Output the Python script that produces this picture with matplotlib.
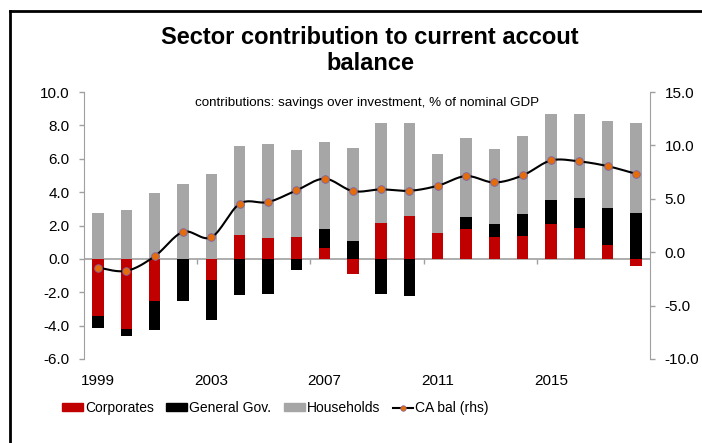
import matplotlib
matplotlib.use("Agg")
import matplotlib.pyplot as plt
import numpy as np
from matplotlib.lines import Line2D
from matplotlib.patches import Patch

plt.rcParams.update({
    "font.family": ["Liberation Sans", "DejaVu Sans"],
    "font.size": 10,
})

# ---- data ----
years = list(range(1999, 2019))
corporates = [-3.40, -4.22, -2.54, 0.00, -1.26, 1.44, 1.28, 1.30, 0.68, -0.92,
              2.14, 2.58, 1.56, 1.78, 1.34, 1.38, 2.06, 1.84, 0.84, -0.42]
general_gov = [-0.72, -0.42, -1.70, -2.54, -2.40, -2.18, -2.12, -0.66, 1.12, 1.08,
               -2.12, -2.22, 0.00, 0.70, 0.72, 1.28, 1.48, 1.78, 2.22, 2.72]
households = [2.74, 2.90, 3.94, 4.50, 5.10, 5.32, 5.58, 5.24, 5.18, 5.54,
              6.00, 5.56, 4.72, 4.74, 4.52, 4.72, 5.12, 5.08, 5.20, 5.40]
ca_bal = [-1.44, -1.75, -0.38, 1.90, 1.40, 4.53, 4.69, 5.78, 6.88, 5.72,
          5.88, 5.75, 6.22, 7.13, 6.53, 7.19, 8.59, 8.50, 8.06, 7.34]
tick_years = [1999, 2003, 2007, 2011, 2015]

# ---- palette ----
RED, BLACK, GREY = "#c00000", "#000000", "#a6a6a6"
ORANGE, PURPLE = "#e46c0a", "#8064a2"
AXIS = "#a0a0a0"

W, H = 702, 443
fig = plt.figure(figsize=(W / 100, H / 100), dpi=100)
ax = fig.add_axes([84 / W, 1 - 359 / H, (650 - 84) / W, (359 - 92) / H])
ax2 = ax.twinx()

x = np.arange(len(years))
pos = np.zeros(len(years))
neg = np.zeros(len(years))
for vals, col in ((corporates, RED), (general_gov, BLACK), (households, GREY)):
    v = np.array(vals)
    bottom = np.where(v >= 0, pos, neg)
    ax.bar(x, v, width=0.4, bottom=bottom, color=col, zorder=3)
    pos = pos + np.clip(v, 0, None)
    neg = neg + np.clip(v, None, 0)

ax.axhline(0, color=AXIS, lw=1.2, zorder=2)
ax.vlines([3.5, 7.5, 11.5, 15.5], -0.3, 0, color=AXIS, lw=1.0, zorder=2)

ax.set_xlim(-0.5, len(years) - 0.5)
ax.set_ylim(-6, 10)
ax.set_yticks(np.arange(-6, 10.1, 2))
ax.set_yticklabels([f"{t:.1f}" for t in np.arange(-6, 10.1, 2)])
ax.set_xticks([years.index(y) for y in tick_years])
ax.set_xticklabels([str(y) for y in tick_years])
ax.tick_params(axis="x", length=0, pad=11, labelsize=11)
ax.tick_params(axis="y", length=3.5, width=1, color=AXIS, pad=7, labelsize=11)

# smoothed CA line (Catmull-Rom through the points, like Excel's smoothed line)
def smooth(xs, ys, n=16):
    xs, ys = np.asarray(xs, float), np.asarray(ys, float)
    px = np.r_[xs[0], xs, xs[-1]]
    py = np.r_[ys[0], ys, ys[-1]]
    t = np.linspace(0, 1, n, endpoint=False)
    outx, outy = [], []
    for i in range(1, len(px) - 2):
        for p, out in ((px, outx), (py, outy)):
            p0, p1, p2, p3 = p[i - 1], p[i], p[i + 1], p[i + 2]
            out.extend(0.5 * (2 * p1 + (-p0 + p2) * t + (2 * p0 - 5 * p1 + 4 * p2 - p3) * t**2
                              + (-p0 + 3 * p1 - 3 * p2 + p3) * t**3))
    outx.append(xs[-1]); outy.append(ys[-1])
    return outx, outy

sx, sy = smooth(x, ca_bal)
ax2.plot(sx, sy, color=BLACK, lw=1.5, zorder=4)
ax2.plot(x, ca_bal, ls="none", marker="o", ms=5.5, mfc=ORANGE, mec=PURPLE, mew=0.6, zorder=5)
ax2.set_ylim(-10, 15)
ax2.set_yticks(np.arange(-10, 15.1, 5))
ax2.set_yticklabels([f"{t:.1f}" for t in np.arange(-10, 15.1, 5)])
ax2.tick_params(axis="y", length=3.5, width=1, color=AXIS, pad=7, labelsize=11)

for a in (ax, ax2):
    a.spines["top"].set_visible(False)
    a.spines["bottom"].set_visible(False)
    a.spines["left"].set_color(AXIS)
    a.spines["right"].set_color(AXIS)
ax.spines["right"].set_visible(False)
ax2.spines["left"].set_visible(False)

# ---- text ----
fig.text(370 / W, 1 - 38 / H, "Sector contribution to current accout", ha="center", va="center",
         fontsize=17, fontweight="bold")
fig.text(370 / W, 1 - 64 / H, "balance", ha="center", va="center",
         fontsize=17, fontweight="bold")
ax.text(0.5, 0.96, "contributions: savings over investment, % of nominal GDP",
        transform=ax.transAxes, ha="center", va="center", fontsize=9.6, zorder=6)

handles = [Patch(color=RED), Patch(color=BLACK), Patch(color=GREY),
           Line2D([], [], color=BLACK, lw=1.5, marker="o", ms=4, mfc=ORANGE, mec=PURPLE, mew=0.5)]
labels = ["Corporates", "General Gov.", "Households", "CA bal (rhs)"]
fig.legend(handles, labels, loc="center left", bbox_to_anchor=(62 / W, 1 - 408 / H),
           ncol=4, frameon=False, fontsize=10, handlelength=1.5, handleheight=0.45,
           handletextpad=0.15, columnspacing=0.9, borderpad=0, borderaxespad=0)

# outer frame (left and top edges visible in the reference)
fig.add_artist(Line2D([10.3 / W, 10.3 / W], [0, 1 - 11.3 / H], color=BLACK, lw=2,
                      transform=fig.transFigure))
fig.add_artist(Line2D([10.3 / W, 1], [1 - 11.3 / H, 1 - 11.3 / H], color=BLACK, lw=2,
                      transform=fig.transFigure))

fig.savefig("out.png", dpi=100, facecolor="white")
